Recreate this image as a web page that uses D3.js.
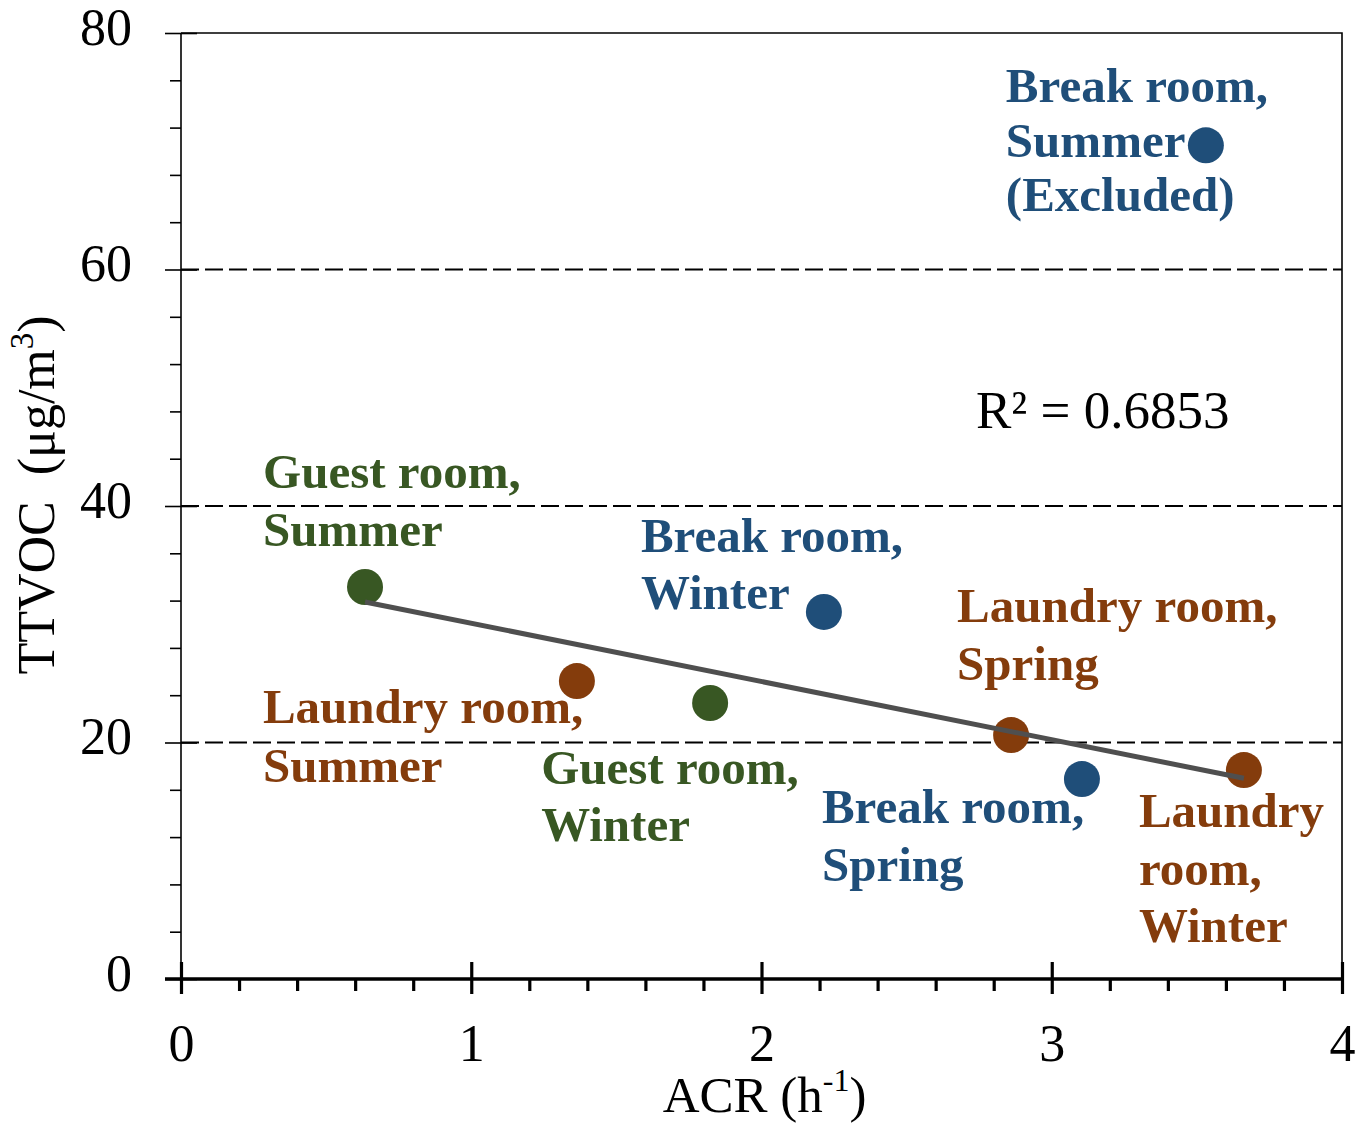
<!DOCTYPE html>
<html>
<head>
<meta charset="utf-8">
<script src="https://cdn.jsdelivr.net/npm/d3@7"></script>
<style>
  body { margin: 0; background: #fff; }
  text { font-family: "Liberation Serif", "Times New Roman", serif; }
</style>
</head>
<body>
<div id="chart"></div>
<script>
// data
var rooms    = ['Guest room', 'Laundry room', 'Guest room', 'Break room', 'Laundry room', 'Break room', 'Laundry room', 'Break room'];
var seasons  = ['Summer', 'Summer', 'Winter', 'Winter', 'Spring', 'Spring', 'Winter', 'Summer'];
var acr      = [0.634, 1.364, 1.823, 2.215, 2.86, 3.104, 3.662, 3.531];
var ttvoc    = [33.15, 25.2, 23.34, 31.04, 20.63, 16.91, 17.67, 70.5];
var excluded = [false, false, false, false, false, false, false, true];
var xTicks = [0, 1, 2, 3, 4];
var yTicks = [0, 20, 40, 60, 80];
var rSquared = '0.6853';

var roomColor = {'Guest room': '#385723', 'Laundry room': '#843c0c', 'Break room': '#1f4e79'};

// label placement (pixel offsets from the marker, baseline of first line)
var labelLayout = [
    {dx: -102, dy: -99, gap: 58},
    {dx: -314, dy: 42,  gap: 59},
    {dx: -169, dy: 81,  gap: 57},
    {dx: -183, dy: -60, gap: 57},
    {dx: -54,  dy: -113, gap: 58},
    {dx: -260, dy: 44,  gap: 58},
    {dx: -105, dy: 57,  gap: 57.5, split: true},
    {dx: -200, dy: -43, gap: 54.5}
];

var width = 1366, height = 1127;
var plotL = 181, plotR = 1342, plotT = 33, plotB = 979;

var svg = d3.select('#chart').append('svg')
    .attr('width', width)
    .attr('height', height);

var x = d3.scaleLinear().domain([0, 4]).range([plotL, plotR]);
var y = d3.scaleLinear().domain([0, 80]).range([plotB, plotT]);

// dashed gridlines
svg.append('g').selectAll('line')
    .data(yTicks.filter(d => d > 0 && d < 80))
    .join('line')
    .attr('x1', plotL).attr('x2', plotR)
    .attr('y1', d => y(d)).attr('y2', d => y(d))
    .attr('stroke', '#000')
    .attr('stroke-width', 2)
    .attr('stroke-dasharray', '18,6');

// frame (top + right)
svg.append('path')
    .attr('d', `M${plotL},${plotT}H${plotR}V${plotB}`)
    .attr('fill', 'none')
    .attr('stroke', '#000')
    .attr('stroke-width', 1.6);

// y axis: minor then major
var yMinor = d3.range(0, 81, 4).filter(d => d % 20 !== 0);
svg.append('g')
    .attr('transform', `translate(${plotL},0)`)
    .call(d3.axisLeft(y).tickValues(yMinor).tickSize(11).tickFormat(''))
    .call(g => g.select('.domain').remove())
    .selectAll('line').attr('stroke', '#000').attr('stroke-width', 1.6);

var yAxis = svg.append('g')
    .attr('transform', `translate(${plotL},0)`)
    .call(d3.axisLeft(y).tickValues(yTicks).tickSize(16).tickPadding(33).tickFormat(d3.format('d')));
yAxis.select('.domain').attr('d', `M0,${plotT}V${plotB}`).attr('stroke', '#000').attr('stroke-width', 1.6);
yAxis.selectAll('.tick line').attr('x1', 16).attr('stroke', '#000').attr('stroke-width', 1.6);
yAxis.selectAll('.tick text')
    .attr('font-size', 52)
    .attr('font-family', '"Liberation Serif", serif')
    .attr('fill', '#000')
    .attr('dy', '0.22em');

// x axis: minor then major
var xMinor = d3.range(0, 4.01, 0.2).map(d => +d.toFixed(1)).filter(d => d % 1 !== 0);
svg.append('g')
    .attr('transform', `translate(0,${plotB})`)
    .call(d3.axisBottom(x).tickValues(xMinor).tickSize(12).tickFormat(''))
    .call(g => g.select('.domain').remove())
    .selectAll('line').attr('stroke', '#000').attr('stroke-width', 3.2);

var xAxis = svg.append('g')
    .attr('transform', `translate(0,${plotB})`)
    .call(d3.axisBottom(x).tickValues(xTicks).tickSize(15).tickPadding(30).tickFormat(d3.format('d')));
xAxis.select('.domain').attr('d', `M${plotL - 16},0H${plotR}`).attr('stroke', '#000').attr('stroke-width', 3.5);
xAxis.selectAll('.tick line').attr('y1', -17).attr('stroke', '#000').attr('stroke-width', 3.2);
xAxis.selectAll('.tick text')
    .attr('font-size', 52)
    .attr('font-family', '"Liberation Serif", serif')
    .attr('fill', '#000')
    .attr('dy', '0.71em');

// axis titles
var xTitle = svg.append('text')
    .attr('x', (plotL + plotR) / 2 + 3)
    .attr('y', 1112)
    .attr('text-anchor', 'middle')
    .attr('font-size', 51);
xTitle.append('tspan').text('ACR (h');
xTitle.append('tspan').attr('font-size', 32).attr('dy', -21).text('-1');
xTitle.append('tspan').attr('dy', 21).text(')');

var yTitle = svg.append('text')
    .attr('transform', `translate(54,${(plotT + plotB) / 2 - 11})rotate(-90)`)
    .attr('text-anchor', 'middle')
    .attr('font-size', 52)
    .attr('xml:space', 'preserve');
yTitle.append('tspan').text('TTVOC  (\u03bcg/m');
yTitle.append('tspan').attr('font-size', 33).attr('dy', -21).text('3');
yTitle.append('tspan').attr('dy', 21).text(')');

// regression on the included points
var pts = acr.map((a, i) => ({x: a, y: ttvoc[i], i: i}));
var fitPts = pts.filter(p => !excluded[p.i]);
var mx = d3.mean(fitPts, p => p.x), my = d3.mean(fitPts, p => p.y);
var slope = d3.sum(fitPts, p => (p.x - mx) * (p.y - my)) / d3.sum(fitPts, p => (p.x - mx) ** 2);
var icpt = my - slope * mx;
var xExt = d3.extent(fitPts, p => p.x);

// points
svg.append('g').selectAll('circle')
    .data(pts)
    .join('circle')
    .attr('cx', p => x(p.x))
    .attr('cy', p => y(p.y))
    .attr('r', 18)
    .attr('fill', p => roomColor[rooms[p.i]]);

svg.append('line')
    .attr('x1', x(xExt[0])).attr('y1', y(icpt + slope * xExt[0]))
    .attr('x2', x(xExt[1])).attr('y2', y(icpt + slope * xExt[1]))
    .attr('stroke', '#4f4f4f')
    .attr('stroke-width', 5);

// point labels
pts.forEach(p => {
    var lay = labelLayout[p.i];
    var lines = lay.split
        ? rooms[p.i].split(' ').map((w, k, a) => k === a.length - 1 ? w + ',' : w)
        : [rooms[p.i] + ','];
    lines.push(seasons[p.i]);
    if (excluded[p.i]) lines.push('(Excluded)');
    var t = svg.append('text')
        .attr('font-size', 49)
        .attr('font-weight', 'bold')
        .attr('fill', roomColor[rooms[p.i]]);
    lines.forEach((ln, k) => {
        t.append('tspan')
            .attr('x', x(p.x) + lay.dx)
            .attr('y', y(p.y) + lay.dy + k * lay.gap)
            .text(ln);
    });
});

svg.append('text')
    .attr('x', 976)
    .attr('y', 428)
    .attr('font-size', 53)
    .text('R\u00b2 = ' + rSquared);
</script>
</body>
</html>
